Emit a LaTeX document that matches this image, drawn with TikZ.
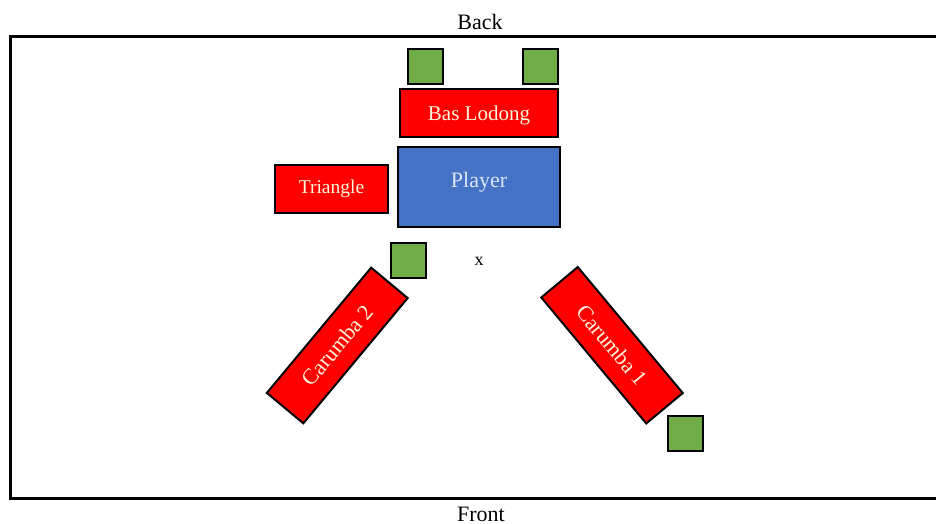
\documentclass[tikz,border=0pt]{standalone}
\usepackage{fontspec}
\setmainfont{Liberation Serif}
\definecolor{boxred}{HTML}{FF0000}
\definecolor{boxgreen}{HTML}{70AD47}
\definecolor{boxblue}{HTML}{4472C4}
\definecolor{redtext}{HTML}{FFF5DC}
\definecolor{bluetext}{HTML}{DCE6F5}
\begin{document}
\begin{tikzpicture}[x=1pt,y=-1pt,
  redbox/.style={draw=black, line width=2pt, fill=boxred, text=redtext, inner sep=0pt},
  greenbox/.style={draw=black, line width=2pt, fill=boxgreen, minimum width=35pt, minimum height=35pt, inner sep=0pt},
  bluebox/.style={draw=black, line width=2pt, fill=boxblue, text=bluetext, inner sep=0pt},
  plain/.style={inner sep=0pt, text=black}]
\useasboundingbox (0,0) rectangle (936,524);
\fill[white] (0,0) rectangle (936,524);
% frame
\draw[line width=3pt] (950,37) -- (10,37) -- (10,498) -- (950,498);
\node[plain, font=\fontsize{22}{24}\selectfont] (back) at (480,22) {Back};
\node[plain, font=\fontsize{22}{24}\selectfont] (front) at (481,514) {Front};
% top squares
\node[greenbox] (g1) at (425.5,66.5) {};
\node[greenbox] (g2) at (540.5,66.5) {};
% Bas Lodong
\node[redbox, minimum width=158pt, minimum height=47pt, text depth=0pt, font=\fontsize{21}{23}\selectfont] (bas) at (479,113) {Bas Lodong};
% Player
\node[bluebox, minimum width=162pt, minimum height=80pt, text height=15pt, text depth=15pt, font=\fontsize{22}{24}\selectfont] (player) at (479,187) {Player};
% Triangle
\node[redbox, minimum width=113pt, minimum height=48pt, font=\fontsize{19.5}{21}\selectfont] (tri) at (331.5,189) {Triangle};
% square near Carumba 2
\node[greenbox] (g3) at (408.5,260.5) {};
\node[plain, font=\fontsize{18}{20}\selectfont] (x) at (479,261) {x};
% Carumba 2
\node[redbox, minimum width=163pt, minimum height=47.5pt, rotate=50.2, font=\fontsize{22}{24}\selectfont] (c2) at (337.25,345.5) {Carumba 2};
% Carumba 1
\node[redbox, minimum width=164pt, minimum height=47.5pt, rotate=-50.2, font=\fontsize{22}{24}\selectfont] (c1) at (612,345.25) {Carumba 1};
% bottom square
\node[greenbox] (g4) at (685,433) {};
\end{tikzpicture}
\end{document}
